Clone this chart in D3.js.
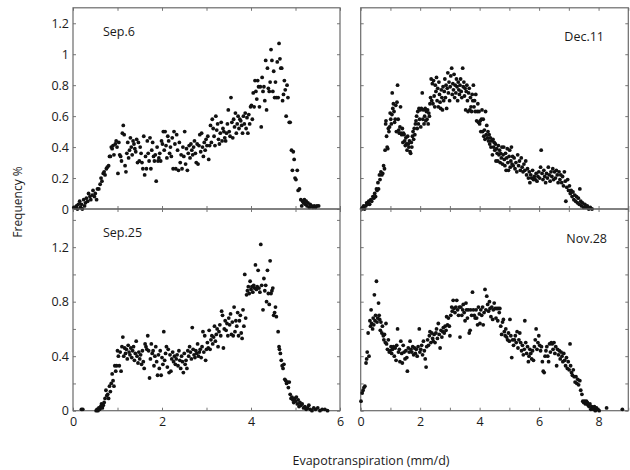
<!DOCTYPE html>
<html>
<head>
<meta charset="utf-8">
<style>
  body { margin: 0; background: #fff; }
  svg { display: block; font-family: "Open Sans", sans-serif; }
  .axis text { font-size: 12.5px; fill: #1a1a1a; font-family: "Open Sans", sans-serif; }
  .axis line { stroke: #777; }
  .axis path { stroke: none; }
</style>
</head>
<body>
<script src="https://cdn.jsdelivr.net/npm/d3@7"></script>
<script>

// frequency (%) vs evapotranspiration (mm/d)
var sep6 = [[0.02,0.01],[0.05,0.01],[0.08,0.02],[0.10,0.00],[0.12,0.03],[0.15,0.05],[0.17,0.01],[0.19,0.03],[0.21,0.00],[0.24,0.06],[0.26,0.02],[0.28,0.04],[0.30,0.07],
  [0.33,0.05],[0.35,0.10],[0.38,0.08],[0.40,0.06],[0.43,0.09],[0.45,0.12],[0.48,0.08],[0.50,0.10],[0.53,0.06],[0.55,0.13],[0.58,0.13],
  [0.61,0.16],[0.63,0.20],[0.65,0.18],[0.68,0.23],[0.70,0.24],[0.72,0.22],[0.75,0.26],[0.77,0.27],[0.80,0.28],[0.82,0.34],[0.84,0.34],[0.86,0.40],[0.88,0.39],[0.90,0.41],[0.92,0.35],[0.95,0.42],[0.97,0.44],[0.99,0.40],
  [1.01,0.23],[1.03,0.43],[1.05,0.35],[1.07,0.34],[1.09,0.31],[1.11,0.49],[1.13,0.54],[1.15,0.48],[1.17,0.28],[1.19,0.24],[1.21,0.36],[1.23,0.43],[1.25,0.33],[1.27,0.38],[1.29,0.46],[1.31,0.40],[1.33,0.35],[1.35,0.44],[1.37,0.42],[1.39,0.39],[1.41,0.37],[1.43,0.45],[1.45,0.30],[1.47,0.43],[1.49,0.31],
  [1.51,0.40],[1.53,0.36],[1.55,0.30],[1.57,0.26],[1.59,0.47],[1.61,0.22],[1.63,0.34],[1.65,0.26],[1.67,0.44],[1.69,0.36],[1.71,0.31],[1.73,0.46],[1.75,0.26],[1.77,0.38],[1.79,0.43],[1.81,0.34],[1.83,0.31],[1.85,0.35],[1.87,0.18],[1.89,0.40],[1.91,0.31],[1.93,0.33],[1.95,0.36],[1.97,0.31],[1.99,0.44],
  [2.01,0.42],[2.03,0.50],[2.05,0.38],[2.07,0.50],[2.09,0.41],[2.11,0.33],[2.13,0.47],[2.15,0.44],[2.17,0.36],[2.19,0.40],[2.21,0.34],[2.23,0.46],[2.25,0.26],[2.27,0.50],[2.29,0.42],[2.31,0.26],[2.33,0.48],[2.35,0.38],[2.37,0.25],[2.39,0.43],[2.41,0.30],[2.43,0.35],[2.45,0.26],[2.47,0.40],[2.49,0.34],
  [2.51,0.50],[2.53,0.29],[2.55,0.39],[2.57,0.25],[2.59,0.36],[2.61,0.41],[2.63,0.33],[2.65,0.42],[2.67,0.38],[2.69,0.35],[2.71,0.40],[2.73,0.44],[2.75,0.36],[2.77,0.30],[2.79,0.42],[2.81,0.29],[2.83,0.41],[2.85,0.48],[2.87,0.37],[2.89,0.49],[2.91,0.40],[2.93,0.34],[2.95,0.43],[2.97,0.38],[2.99,0.45],
  [3.01,0.41],[3.03,0.47],[3.05,0.32],[3.07,0.41],[3.09,0.54],[3.11,0.43],[3.13,0.58],[3.15,0.52],[3.17,0.47],[3.19,0.41],[3.21,0.60],[3.23,0.51],[3.25,0.55],[3.27,0.45],[3.29,0.42],[3.31,0.49],[3.33,0.56],[3.35,0.44],[3.37,0.52],[3.39,0.50],[3.41,0.46],[3.43,0.44],[3.45,0.49],[3.47,0.55],[3.49,0.64],
  [3.51,0.50],[3.53,0.47],[3.55,0.72],[3.57,0.56],[3.59,0.46],[3.61,0.58],[3.63,0.53],[3.65,0.62],[3.67,0.49],[3.69,0.55],[3.71,0.60],[3.73,0.52],[3.75,0.58],[3.77,0.57],[3.79,0.54],[3.81,0.49],[3.83,0.60],[3.85,0.55],[3.87,0.62],[3.89,0.52],[3.91,0.59],[3.93,0.49],[3.95,0.61],[3.97,0.55],[3.99,0.66],
  [4.01,0.67],[4.03,0.58],[4.05,0.75],[4.07,0.66],[4.09,0.83],[4.11,0.76],[4.13,0.71],[4.15,0.83],[4.17,0.79],[4.19,0.66],[4.21,0.79],[4.23,0.53],[4.25,0.85],[4.27,0.76],[4.29,0.79],[4.31,0.70],[4.33,0.96],[4.35,0.64],[4.37,0.91],[4.39,0.78],[4.41,0.76],[4.43,0.82],[4.45,1.03],[4.47,0.96],[4.49,0.76],[4.51,0.89],[4.53,0.72],[4.55,0.82],[4.57,0.72],[4.59,0.95],[4.61,0.72],[4.63,1.07],[4.65,0.97],[4.67,0.91],[4.69,0.91],[4.71,0.70],[4.73,0.74],[4.75,0.83],[4.77,0.77],[4.79,0.60],[4.81,0.80],[4.83,0.72],[4.86,0.56],[4.88,0.56],
  [4.91,0.38],[4.93,0.25],[4.95,0.37],[4.97,0.32],[4.99,0.20],[5.01,0.19],[5.04,0.25],[5.06,0.12],[5.09,0.13],[5.12,0.06],[5.14,0.02],[5.16,0.05],[5.18,0.04],[5.20,0.06],[5.22,0.03],[5.24,0.05],[5.26,0.02],[5.28,0.04],[5.31,0.01],[5.33,0.03],[5.36,0.02],[5.39,0.01],[5.42,0.02],[5.45,0.01],[5.48,0.02],[5.52,0.02]];

var sep25 = [[0.19,0.01],[0.22,0.01],[0.52,0.00],[0.54,0.01],[0.56,0.00],[0.58,0.02],[0.60,0.01],[0.62,0.03],[0.64,0.05],[0.66,0.02],[0.68,0.04],[0.70,0.06],[0.72,0.09],[0.74,0.15],[0.76,0.11],[0.78,0.12],[0.80,0.09],[0.82,0.18],[0.84,0.14],[0.86,0.20],[0.88,0.27],[0.90,0.22],[0.92,0.18],[0.94,0.33],[0.96,0.29],[0.98,0.33],
  [1.00,0.44],[1.02,0.40],[1.04,0.33],[1.06,0.43],[1.08,0.29],[1.10,0.47],[1.12,0.54],[1.14,0.40],[1.16,0.46],[1.18,0.42],[1.20,0.45],[1.22,0.38],[1.24,0.48],[1.26,0.43],[1.28,0.41],[1.30,0.46],[1.32,0.39],[1.34,0.44],[1.36,0.47],[1.38,0.37],[1.40,0.42],[1.42,0.51],[1.44,0.40],[1.46,0.35],[1.48,0.43],
  [1.50,0.38],[1.52,0.41],[1.54,0.34],[1.56,0.44],[1.58,0.36],[1.60,0.31],[1.62,0.49],[1.64,0.47],[1.66,0.45],[1.68,0.55],[1.70,0.44],[1.72,0.24],[1.74,0.38],[1.76,0.49],[1.78,0.42],[1.80,0.44],[1.82,0.33],[1.84,0.40],[1.86,0.47],[1.88,0.36],[1.90,0.26],[1.92,0.41],[1.94,0.31],[1.96,0.44],[1.98,0.26],
  [2.00,0.39],[2.02,0.34],[2.04,0.58],[2.06,0.37],[2.08,0.42],[2.10,0.47],[2.12,0.32],[2.14,0.45],[2.16,0.28],[2.18,0.41],[2.20,0.29],[2.22,0.38],[2.24,0.43],[2.26,0.36],[2.28,0.40],[2.30,0.34],[2.32,0.38],[2.34,0.41],[2.36,0.33],[2.38,0.44],[2.40,0.37],[2.42,0.31],[2.44,0.40],[2.46,0.36],[2.48,0.28],
  [2.50,0.42],[2.52,0.34],[2.54,0.37],[2.56,0.31],[2.58,0.44],[2.60,0.40],[2.62,0.47],[2.64,0.43],[2.66,0.38],[2.68,0.61],[2.70,0.45],[2.72,0.41],[2.74,0.39],[2.76,0.44],[2.78,0.42],[2.80,0.49],[2.82,0.40],[2.84,0.43],[2.86,0.45],[2.88,0.39],[2.90,0.47],[2.92,0.58],[2.94,0.43],[2.96,0.55],[2.98,0.37],
  [3.00,0.45],[3.02,0.50],[3.04,0.46],[3.06,0.59],[3.08,0.45],[3.10,0.52],[3.12,0.55],[3.14,0.49],[3.16,0.54],[3.18,0.62],[3.20,0.51],[3.22,0.56],[3.24,0.60],[3.26,0.47],[3.28,0.58],[3.30,0.63],[3.32,0.55],[3.34,0.73],[3.36,0.70],[3.38,0.46],[3.40,0.60],[3.42,0.66],[3.44,0.59],[3.46,0.64],[3.48,0.55],
  [3.50,0.68],[3.52,0.63],[3.54,0.71],[3.56,0.56],[3.58,0.65],[3.60,0.55],[3.62,0.76],[3.64,0.58],[3.66,0.66],[3.68,0.62],[3.70,0.72],[3.72,0.55],[3.74,0.66],[3.76,0.70],[3.78,0.57],[3.80,0.53],[3.82,0.74],[3.84,0.62],[3.86,1.00],[3.88,0.68],
  [3.90,0.85],[3.92,0.88],[3.94,0.91],[3.96,0.86],[3.98,0.95],[4.00,0.89],[4.02,0.91],[4.04,0.87],[4.06,0.92],[4.08,0.90],[4.10,1.07],[4.12,0.89],[4.14,0.91],[4.16,1.03],[4.18,0.90],[4.20,0.87],[4.22,1.22],[4.24,0.92],[4.27,0.74],[4.29,0.97],[4.31,0.88],[4.33,0.92],[4.35,0.80],[4.37,1.03],[4.39,0.86],[4.41,0.78],[4.43,1.10],[4.45,0.86],[4.47,0.88],[4.49,0.90],
  [4.51,0.70],[4.53,0.72],[4.55,0.76],[4.57,0.69],[4.61,0.58],[4.63,0.47],[4.64,0.45],[4.66,0.42],[4.68,0.37],[4.70,0.33],[4.72,0.31],[4.74,0.34],[4.76,0.23],[4.78,0.22],[4.80,0.20],[4.82,0.21],[4.84,0.17],[4.86,0.21],[4.88,0.12],[4.90,0.09],[4.92,0.10],[4.94,0.08],[4.96,0.06],[4.98,0.09],
  [5.00,0.07],[5.02,0.10],[5.04,0.05],[5.06,0.08],[5.08,0.03],[5.10,0.06],[5.12,0.04],[5.15,0.05],[5.18,0.02],[5.21,0.03],[5.24,0.01],[5.27,0.02],[5.30,0.04],[5.33,0.01],[5.37,0.00],[5.41,0.02],[5.45,0.01],[5.50,0.02],[5.55,0.00],[5.60,0.01],[5.66,0.01],[5.72,0.00]];

var dec11 = [[0.03,0.00],[0.07,0.01],[0.10,0.02],[0.13,0.00],[0.17,0.02],[0.20,0.04],[0.23,0.03],[0.27,0.05],[0.30,0.03],[0.34,0.06],[0.37,0.05],[0.41,0.08],[0.44,0.07],
  [0.47,0.10],[0.50,0.08],[0.53,0.13],[0.55,0.12],[0.58,0.17],[0.60,0.13],[0.63,0.22],[0.65,0.19],[0.68,0.24],[0.71,0.22],[0.74,0.23],[0.77,0.28],
  [0.80,0.26],[0.82,0.38],[0.84,0.55],[0.85,0.57],[0.87,0.47],[0.89,0.40],[0.91,0.39],[0.93,0.52],[0.95,0.50],[0.97,0.53],[0.99,0.62],[1.01,0.58],[1.03,0.55],[1.05,0.61],[1.06,0.75],[1.08,0.65],[1.10,0.68],
  [1.12,0.63],[1.14,0.56],[1.16,0.58],[1.18,0.67],[1.20,0.50],[1.22,0.69],[1.24,0.80],[1.26,0.58],[1.28,0.51],[1.30,0.49],[1.32,0.53],[1.34,0.66],[1.36,0.49],[1.38,0.48],[1.40,0.52],[1.42,0.43],[1.44,0.49],[1.46,0.48],[1.48,0.44],
  [1.50,0.41],[1.52,0.46],[1.54,0.42],[1.56,0.38],[1.58,0.47],[1.60,0.42],[1.62,0.40],[1.64,0.44],[1.66,0.37],[1.68,0.36],[1.70,0.43],[1.72,0.40],[1.74,0.47],[1.76,0.50],[1.78,0.45],[1.80,0.52],[1.82,0.48],[1.84,0.55],
  [1.86,0.57],[1.88,0.60],[1.90,0.52],[1.92,0.63],[1.94,0.55],[1.96,0.65],[1.98,0.58],[2.00,0.64],[2.02,0.53],[2.04,0.65],[2.07,0.75],[2.09,0.58],[2.11,0.64],[2.13,0.55],[2.15,0.60],[2.17,0.65],[2.19,0.57],[2.21,0.63],[2.23,0.58],[2.25,0.64],[2.27,0.55],[2.29,0.62],[2.31,0.60],[2.33,0.68],
  [2.35,0.72],[2.37,0.84],[2.39,0.70],[2.41,0.81],[2.43,0.68],[2.45,0.83],[2.47,0.73],[2.49,0.66],[2.51,0.80],[2.53,0.76],[2.55,0.85],[2.57,0.70],[2.59,0.78],[2.61,0.66],[2.63,0.82],[2.65,0.74],[2.67,0.69],[2.69,0.65],[2.71,0.77],[2.73,0.72],[2.75,0.64],[2.77,0.79],[2.79,0.70],
  [2.81,0.76],[2.83,0.84],[2.85,0.72],[2.87,0.80],[2.89,0.65],[2.91,0.78],[2.93,0.88],[2.95,0.75],[2.97,0.82],[2.99,0.70],[3.01,0.79],[3.03,0.86],[3.06,0.91],[3.08,0.74],[3.10,0.81],[3.12,0.77],[3.14,0.87],[3.16,0.72],[3.18,0.80],[3.20,0.75],[3.22,0.84],[3.24,0.79],[3.26,0.70],[3.28,0.82],[3.30,0.77],[3.32,0.74],[3.34,0.80],[3.36,0.84],[3.38,0.76],[3.40,0.72],[3.43,0.91],[3.45,0.79],[3.47,0.82],[3.49,0.73],
  [3.51,0.78],[3.53,0.64],[3.55,0.76],[3.57,0.80],[3.59,0.70],[3.61,0.63],[3.63,0.75],[3.65,0.78],[3.67,0.64],[3.69,0.72],[3.71,0.66],[3.73,0.63],[3.75,0.74],[3.77,0.70],[3.79,0.80],[3.81,0.66],[3.83,0.70],[3.85,0.63],[3.87,0.74],
  [3.90,0.57],[3.92,0.63],[3.94,0.68],[3.96,0.56],[3.98,0.63],[4.00,0.55],[4.02,0.57],[4.04,0.50],[4.06,0.58],[4.08,0.64],[4.10,0.50],[4.12,0.58],[4.14,0.47],[4.16,0.51],[4.18,0.45],[4.20,0.63],[4.22,0.48],[4.24,0.54],[4.26,0.46],[4.28,0.50],[4.30,0.44],[4.32,0.48],[4.34,0.42],[4.36,0.46],[4.38,0.40],[4.40,0.44],[4.43,0.35],[4.45,0.45],[4.47,0.40],[4.49,0.43],
  [4.51,0.38],[4.53,0.42],[4.55,0.31],[4.57,0.39],[4.59,0.36],[4.61,0.31],[4.63,0.41],[4.65,0.35],[4.67,0.38],[4.69,0.30],[4.71,0.36],[4.73,0.33],[4.75,0.40],[4.77,0.29],[4.79,0.35],[4.81,0.40],[4.83,0.32],[4.85,0.28],[4.87,0.36],[4.89,0.25],[4.91,0.33],[4.93,0.39],[4.95,0.30],[4.97,0.25],[4.99,0.34],[5.01,0.38],[5.03,0.27],[5.05,0.31],[5.07,0.40],[5.09,0.29],[5.11,0.34],[5.13,0.28],
  [5.16,0.33],[5.19,0.26],[5.22,0.30],[5.25,0.24],[5.28,0.35],[5.31,0.28],[5.34,0.31],[5.37,0.25],[5.40,0.33],[5.43,0.27],[5.46,0.24],[5.49,0.29],[5.52,0.25],[5.55,0.31],[5.58,0.22],[5.61,0.26],[5.64,0.20],[5.67,0.24],[5.69,0.17],[5.72,0.22],[5.75,0.20],[5.78,0.25],
  [5.81,0.19],[5.84,0.21],[5.87,0.19],[5.90,0.23],[5.93,0.18],[5.96,0.21],[5.99,0.24],[6.02,0.20],[6.05,0.27],[6.07,0.38],[6.10,0.23],[6.13,0.19],[6.16,0.25],[6.19,0.21],[6.22,0.17],[6.25,0.23],[6.28,0.20],[6.31,0.27],[6.34,0.22],[6.37,0.18],
  [6.40,0.24],[6.43,0.21],[6.46,0.26],[6.49,0.19],[6.52,0.24],[6.55,0.20],[6.58,0.25],[6.61,0.22],[6.64,0.17],[6.67,0.24],[6.70,0.19],[6.73,0.22],[6.76,0.17],[6.79,0.21],[6.82,0.15],[6.85,0.24],[6.88,0.18],[6.90,0.05],[6.93,0.14],[6.96,0.19],[6.99,0.12],[7.02,0.15],
  [7.05,0.10],[7.08,0.12],[7.11,0.08],[7.14,0.11],[7.17,0.06],[7.20,0.09],[7.23,0.05],[7.26,0.08],[7.29,0.04],[7.32,0.07],[7.35,0.03],[7.37,0.13],[7.40,0.05],[7.43,0.02],[7.46,0.04],[7.50,0.01],[7.54,0.03],[7.58,0.01],[7.62,0.02],[7.67,0.00],[7.72,0.01],[7.78,0.00]];

var nov28 = [[0.01,0.07],[0.05,0.13],[0.08,0.15],[0.11,0.17],[0.14,0.18],[0.18,0.35],[0.20,0.38],[0.22,0.43],[0.25,0.57],[0.28,0.40],[0.31,0.66],[0.33,0.62],[0.35,0.74],[0.37,0.64],[0.40,0.60],[0.42,0.68],[0.44,0.63],[0.46,0.85],[0.48,0.66],[0.50,0.70],[0.53,0.95],[0.55,0.65],[0.57,0.68],[0.60,0.79],[0.62,0.70],[0.64,0.67],[0.66,0.59],[0.68,0.65],[0.71,0.57],[0.73,0.62],[0.76,0.55],[0.78,0.52],
  [0.80,0.56],[0.83,0.50],[0.85,0.64],[0.87,0.49],[0.90,0.45],[0.93,0.52],[0.96,0.43],[0.99,0.44],[1.02,0.47],[1.04,0.42],[1.07,0.45],[1.10,0.47],[1.13,0.40],[1.16,0.46],[1.19,0.37],[1.21,0.48],[1.24,0.60],[1.27,0.43],[1.30,0.45],[1.32,0.36],[1.35,0.51],[1.38,0.42],[1.40,0.35],[1.43,0.48],[1.46,0.43],[1.49,0.38],[1.52,0.44],[1.55,0.39],[1.57,0.29],[1.60,0.46],[1.63,0.43],[1.66,0.51],[1.69,0.45],[1.72,0.43],[1.75,0.47],[1.78,0.41],[1.81,0.46],[1.84,0.42],[1.87,0.45],[1.90,0.40],[1.93,0.47],[1.97,0.60],[1.99,0.43],[2.02,0.45],[2.05,0.48],[2.08,0.41],[2.11,0.51],[2.14,0.44],[2.17,0.38],[2.20,0.32],
  [2.22,0.47],[2.25,0.52],[2.28,0.48],[2.31,0.55],[2.33,0.58],[2.36,0.50],[2.39,0.57],[2.42,0.53],[2.44,0.51],[2.47,0.56],[2.50,0.50],[2.53,0.57],[2.55,0.60],[2.58,0.53],[2.61,0.64],[2.64,0.56],[2.67,0.46],[2.70,0.59],[2.73,0.54],[2.76,0.58],[2.78,0.61],[2.81,0.57],[2.84,0.62],[2.87,0.59],[2.89,0.69],[2.92,0.63],[2.95,0.68],[2.98,0.62],
  [3.00,0.55],[3.03,0.70],[3.06,0.76],[3.08,0.73],[3.11,0.81],[3.14,0.75],[3.17,0.72],[3.20,0.76],[3.23,0.81],[3.26,0.74],[3.29,0.70],[3.32,0.76],[3.34,0.54],
  [3.37,0.76],[3.40,0.70],[3.43,0.74],[3.45,0.78],[3.48,0.72],[3.51,0.66],[3.54,0.79],[3.56,0.74],[3.59,0.68],[3.62,0.74],[3.65,0.57],[3.68,0.59],[3.70,0.74],[3.73,0.70],[3.76,0.87],[3.79,0.74],[3.82,0.70],[3.85,0.68],[3.88,0.74],[3.90,0.68],[3.93,0.63],[3.96,0.76],[3.99,0.71],[4.01,0.64],[4.04,0.74],[4.07,0.70],[4.10,0.76],[4.12,0.63],
  [4.15,0.72],[4.18,0.89],[4.21,0.74],[4.24,0.84],[4.27,0.78],[4.30,0.73],[4.33,0.80],[4.35,0.75],[4.38,0.69],[4.41,0.76],[4.44,0.67],[4.46,0.74],[4.49,0.79],[4.52,0.75],[4.55,0.68],[4.58,0.75],[4.61,0.66],[4.63,0.75],[4.66,0.72],[4.68,0.75],
  [4.71,0.62],[4.74,0.56],[4.77,0.65],[4.80,0.67],[4.83,0.58],[4.86,0.55],[4.88,0.60],[4.91,0.54],[4.94,0.52],[4.97,0.57],[5.00,0.51],[5.02,0.67],[5.05,0.55],[5.08,0.39],[5.11,0.52],[5.14,0.48],[5.17,0.52],[5.20,0.55],[5.23,0.50],
  [5.26,0.58],[5.29,0.46],[5.32,0.52],[5.35,0.57],[5.38,0.50],[5.41,0.44],[5.44,0.48],[5.47,0.41],[5.50,0.45],[5.52,0.66],[5.55,0.50],[5.58,0.42],[5.61,0.47],[5.64,0.36],[5.66,0.40],[5.69,0.45],[5.72,0.42],[5.75,0.38],[5.78,0.44],
  [5.81,0.37],[5.84,0.47],[5.87,0.52],[5.90,0.60],[5.93,0.45],[5.96,0.50],[5.99,0.55],[6.02,0.48],[6.05,0.44],[6.08,0.47],[6.11,0.36],[6.14,0.29],[6.17,0.28],[6.20,0.40],[6.23,0.44],[6.26,0.47],[6.29,0.40],[6.32,0.36],[6.35,0.49],[6.38,0.43],[6.41,0.50],[6.44,0.49],[6.47,0.45],
  [6.50,0.50],[6.53,0.42],[6.56,0.47],[6.59,0.33],[6.62,0.45],[6.65,0.41],[6.68,0.44],[6.71,0.38],[6.74,0.43],[6.77,0.40],[6.80,0.36],[6.83,0.42],[6.86,0.37],[6.89,0.33],[6.92,0.39],[6.95,0.31],[6.98,0.36],[7.01,0.30],[7.04,0.49],
  [7.06,0.33],[7.09,0.28],[7.12,0.26],[7.15,0.30],[7.18,0.25],[7.21,0.21],[7.24,0.25],[7.27,0.20],[7.30,0.23],[7.33,0.19],[7.37,0.22],[7.40,0.15],[7.44,0.12],[7.47,0.07],[7.50,0.06],[7.53,0.07],[7.56,0.05],[7.59,0.07],[7.62,0.06],[7.65,0.04],[7.68,0.03],[7.71,0.05],[7.74,0.01],[7.77,0.03],[7.80,0.02],[7.83,0.01],[7.86,0.03],[7.89,0.00],[7.93,0.02],[7.97,0.01],[8.02,0.00],[8.27,0.02],[8.80,0.01]];

var xTicksLeft = [0, 2, 4, 6];
var xTicksRight = [0, 2, 4, 6, 8];
var yTicksTop = [0, 0.2, 0.4, 0.6, 0.8, 1, 1.2];
var yTicksBottom = [0, 0.4, 0.8, 1.2];

var width = 630, height = 470;

var svg = d3.select("body").append("svg")
  .attr("width", width)
  .attr("height", height);

var colL = [73, 340], colR = [360.7, 628.3];
var rowT = [209, 7.8], rowB = [410.7, 209];

var panels = [
  {data: sep6,  name: "Sep.6",  xr: colL, yr: rowT, xmax: 6, ymax: 1.3,  xlab: null, ylab: yTicksTop, lx: 103, ly: 36, anchor: "start"},
  {data: dec11, name: "Dec.11", xr: colR, yr: rowT, xmax: 9, ymax: 1.3,  xlab: null, ylab: null, lx: 604, ly: 41, anchor: "end"},
  {data: sep25, name: "Sep.25", xr: colL, yr: rowB, xmax: 6, ymax: 1.48, xlab: xTicksLeft, ylab: yTicksBottom, lx: 103, ly: 237, anchor: "start"},
  {data: nov28, name: "Nov.28", xr: colR, yr: rowB, xmax: 9, ymax: 1.48, xlab: xTicksRight, ylab: null, lx: 607, ly: 243, anchor: "end"}
];

panels.forEach(function(p) {
  var x = d3.scaleLinear().domain([0, p.xmax]).range(p.xr);
  var y = d3.scaleLinear().domain([0, p.ymax]).range(p.yr);
  var g = svg.append("g");

  var xMinor = d3.range(0, p.xmax + 0.001, 1);
  var yMinor = d3.range(0, p.ymax, 0.2);

  // inward ticks on all four sides
  g.append("g").attr("class", "axis")
    .attr("transform", "translate(0," + p.yr[0] + ")")
    .call(d3.axisBottom(x).tickValues(xMinor).tickSizeInner(-3).tickSizeOuter(0).tickFormat(""));
  g.append("g").attr("class", "axis")
    .attr("transform", "translate(0," + p.yr[1] + ")")
    .call(d3.axisTop(x).tickValues(xMinor).tickSizeInner(-3).tickSizeOuter(0).tickFormat(""));
  g.append("g").attr("class", "axis")
    .attr("transform", "translate(" + p.xr[0] + ",0)")
    .call(d3.axisLeft(y).tickValues(yMinor).tickSizeInner(-3).tickSizeOuter(0).tickFormat(""));
  g.append("g").attr("class", "axis")
    .attr("transform", "translate(" + p.xr[1] + ",0)")
    .call(d3.axisRight(y).tickValues(yMinor).tickSizeInner(-3).tickSizeOuter(0).tickFormat(""));

  if (p.xlab) {
    g.append("g").attr("class", "axis")
      .attr("transform", "translate(0," + p.yr[0] + ")")
      .call(d3.axisBottom(x).tickValues(p.xlab).tickSize(0).tickPadding(6).tickFormat(d3.format("d")));
  }
  if (p.ylab) {
    g.append("g").attr("class", "axis")
      .attr("transform", "translate(" + p.xr[0] + ",0)")
      .call(d3.axisLeft(y).tickValues(p.ylab).tickSize(0).tickPadding(4).tickFormat(function(d) { return d3.format("~g")(d); }));
  }

  g.append("rect")
    .attr("x", p.xr[0])
    .attr("y", p.yr[1])
    .attr("width", p.xr[1] - p.xr[0])
    .attr("height", p.yr[0] - p.yr[1])
    .attr("fill", "none")
    .attr("stroke", "#6a6a6a")
    .attr("stroke-width", 1.2);

  g.append("g")
    .selectAll("circle")
    .data(p.data)
    .enter().append("circle")
    .attr("cx", function(d) { return x(d[0]); })
    .attr("cy", function(d) { return y(d[1]); })
    .attr("r", 1.9)
    .attr("fill", "#111");

  g.append("text")
    .attr("x", p.lx)
    .attr("y", p.ly)
    .attr("text-anchor", p.anchor)
    .attr("font-size", "12.5px")
    .attr("fill", "#1a1a1a")
    .text(p.name);
});

svg.append("text")
  .attr("transform", "translate(22,202) rotate(-90)")
  .attr("text-anchor", "middle")
  .attr("font-size", "12px")
  .attr("fill", "#1a1a1a")
  .text("Frequency %");

svg.append("text")
  .attr("x", 371)
  .attr("y", 465)
  .attr("text-anchor", "middle")
  .attr("font-size", "12.5px")
  .attr("fill", "#1a1a1a")
  .text("Evapotranspiration (mm/d)");

</script>
</body>
</html>
